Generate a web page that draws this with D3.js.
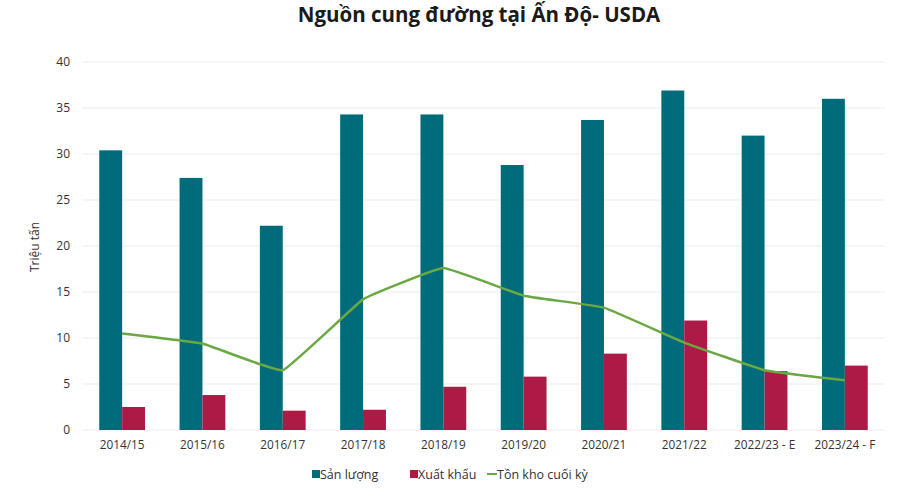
<!DOCTYPE html>
<html>
<head>
<meta charset="utf-8">
<script src="https://cdn.jsdelivr.net/npm/d3@7"></script>
<style>
  body { margin: 0; background: #fff; font-family: "Open Sans", sans-serif; }
</style>
</head>
<body>
<div id="container"></div>
<script>
/* DATA */
const seasons = ["2014/15", "2015/16", "2016/17", "2017/18", "2018/19", "2019/20", "2020/21", "2021/22", "2022/23 - E", "2023/24 - F"];
const production = [30.4, 27.4, 22.2, 34.3, 34.3, 28.8, 33.7, 36.9, 32.0, 36.0];
const exports = [2.5, 3.8, 2.1, 2.2, 4.7, 5.8, 8.3, 11.9, 6.4, 7.0];
const endingStock = [10.5, 9.4, 6.5, 14.2, 17.6, 14.6, 13.3, 9.5, 6.5, 5.4];
const yTicks = [0, 5, 10, 15, 20, 25, 30, 35, 40];
const legendItems = ["Sản lượng", "Xuất khẩu", "Tồn kho cuối kỳ"];

/* CONSTANTS */
const width = 900, height = 500,
  margin = { top: 62, bottom: 70, left: 82, right: 15 };
const colors = { prod: "#006b7a", exp: "#ad1a46", stock: "#6aa843" };

const svg = d3.select("#container")
  .append("svg")
  .attr("width", width)
  .attr("height", height);

// scales
const xScale = d3.scaleBand()
  .domain(seasons)
  .range([margin.left, width - margin.right])
  .paddingInner(0.43)
  .paddingOuter(0.215);

const yScale = d3.scaleLinear()
  .domain([0, 40])
  .range([height - margin.bottom, margin.top]);

// gridlines
svg.append("g")
  .selectAll("line")
  .data(yTicks)
  .join("line")
  .attr("x1", margin.left)
  .attr("x2", width - margin.right)
  .attr("y1", d => yScale(d))
  .attr("y2", d => yScale(d))
  .attr("stroke", "#ececec")
  .attr("stroke-width", 1);

// y axis (labels only)
const yAxis = d3.axisLeft(yScale)
  .tickValues(yTicks)
  .tickSize(0)
  .tickPadding(12);

svg.append("g")
  .attr("transform", `translate(${margin.left},0)`)
  .call(yAxis)
  .call(g => g.select(".domain").remove())
  .selectAll(".tick text")
  .attr("font-family", "Open Sans")
  .attr("font-size", "12px")
  .attr("fill", "#333");

// x axis
const xAxis = d3.axisBottom(xScale)
  .tickSize(0)
  .tickPadding(11);

svg.append("g")
  .attr("transform", `translate(0,${height - margin.bottom})`)
  .call(xAxis)
  .call(g => g.select(".domain").remove())
  .selectAll(".tick text")
  .attr("font-family", "Open Sans")
  .attr("font-size", "11.8px")
  .attr("fill", "#333");

// bars
const bw = xScale.bandwidth() / 2;

svg.append("g")
  .selectAll("rect")
  .data(seasons)
  .join("rect")
  .attr("x", d => xScale(d))
  .attr("y", (d, i) => yScale(production[i]))
  .attr("width", bw)
  .attr("height", (d, i) => yScale(0) - yScale(production[i]))
  .attr("fill", colors.prod);

svg.append("g")
  .selectAll("rect")
  .data(seasons)
  .join("rect")
  .attr("x", d => xScale(d) + bw)
  .attr("y", (d, i) => yScale(exports[i]))
  .attr("width", bw)
  .attr("height", (d, i) => yScale(0) - yScale(exports[i]))
  .attr("fill", colors.exp);

// line
const line = d3.line()
  .x((d, i) => xScale(seasons[i]) + xScale.bandwidth() / 2)
  .y(d => yScale(d))
  .curve(d3.curveCardinal.tension(0.75));

svg.append("path")
  .datum(endingStock)
  .attr("d", line)
  .attr("fill", "none")
  .attr("stroke", colors.stock)
  .attr("stroke-width", 2.5);

// title
svg.append("text")
  .attr("x", 479)
  .attr("y", 22)
  .attr("text-anchor", "middle")
  .attr("font-family", "Open Sans")
  .attr("font-weight", "bold")
  .attr("font-size", "20.5px")
  .attr("fill", "#1a1a1a")
  .text("Nguồn cung đường tại Ấn Độ- USDA");

// y axis label
svg.append("text")
  .attr("transform", "rotate(-90)")
  .attr("x", -247)
  .attr("y", 39)
  .attr("text-anchor", "middle")
  .attr("font-family", "Open Sans")
  .attr("font-size", "12px")
  .attr("fill", "#333")
  .text("Triệu tấn");

// legend
const legendX = [312, 410, 487];
const legend = svg.append("g")
  .attr("transform", `translate(0,474)`);

legendItems.forEach((name, i) => {
  const g = legend.append("g").attr("transform", `translate(${legendX[i]},0)`);
  if (i < 2) {
    g.append("rect")
      .attr("x", 0).attr("y", -4)
      .attr("width", 8).attr("height", 8)
      .attr("fill", i === 0 ? colors.prod : colors.exp);
  } else {
    g.append("line")
      .attr("x1", 0).attr("x2", 10)
      .attr("y1", 0).attr("y2", 0)
      .attr("stroke", colors.stock)
      .attr("stroke-width", 2);
  }
  g.append("text")
    .attr("x", i < 2 ? 8 : 10)
    .attr("y", 4.5)
    .attr("font-family", "Open Sans")
    .attr("font-size", "12.5px")
    .attr("fill", "#333")
    .text(name);
});
</script>
</body>
</html>
